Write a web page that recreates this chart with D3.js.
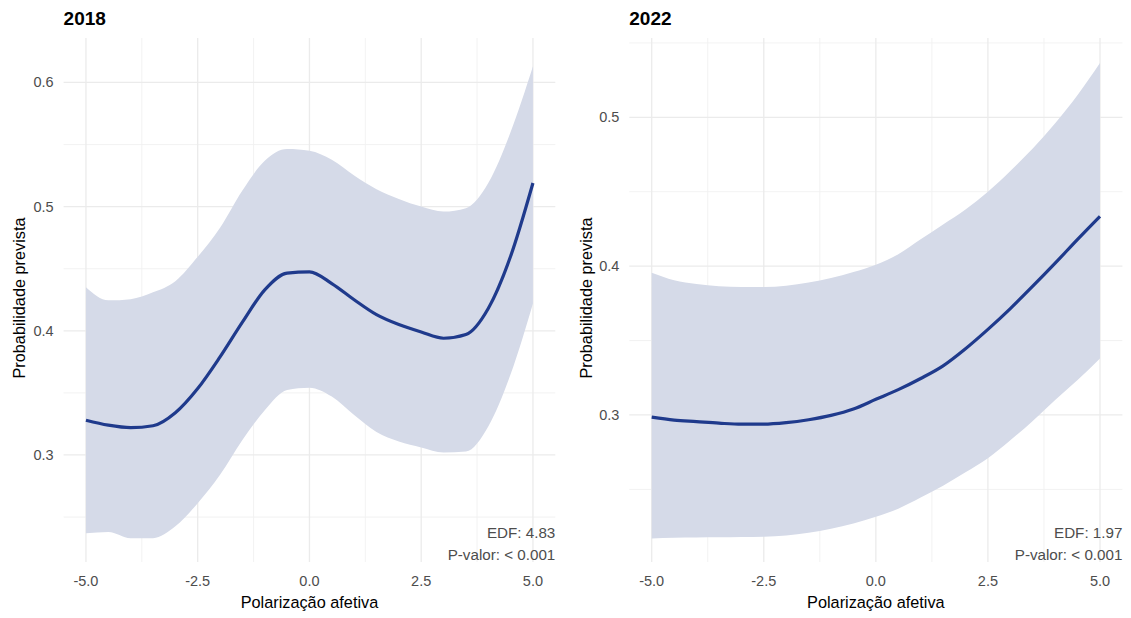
<!DOCTYPE html>
<html>
<head>
<meta charset="utf-8">
<style>
body { margin: 0; background: #ffffff; }
svg { display: block; font-family: "Liberation Sans", Arial, Helvetica, sans-serif; }
.grid-major { stroke: #ebebeb; stroke-width: 1.3; }
.grid-minor { stroke: #f0f0f0; stroke-width: 0.9; }
.ribbon { fill: #d5dae8; }
.fit { fill: none; stroke: #1f3a8c; stroke-width: 3.2; stroke-linejoin: round; }
.tick-label { fill: #4d4d4d; font-size: 14.5px; }
.axis-title { fill: #000000; font-size: 16.3px; }
.panel-title { fill: #000000; font-size: 19px; font-weight: bold; }
.note { fill: #4d4d4d; font-size: 15.2px; }
</style>
</head>
<body>
<svg width="1131" height="618"></svg>
<script src="https://d3js.org/d3.v7.min.js"></script>
<script>

var xGrid = [-5, -4.5, -4, -3.5, -3, -2.5, -2, -1.5, -1, -0.5, 0, 0.5, 1, 1.5, 2, 2.5, 3, 3.5, 4, 4.5, 5];

// 2018 panel
var fit2018   = [0.328, 0.324, 0.322, 0.3235, 0.334, 0.3535, 0.379, 0.407, 0.433, 0.4465, 0.4475, 0.438, 0.425, 0.413, 0.405, 0.399, 0.394, 0.397, 0.418, 0.46, 0.519];
var lower2018 = [0.237, 0.238, 0.233, 0.233, 0.2425, 0.2612, 0.284, 0.312, 0.336, 0.3523, 0.3542, 0.347, 0.3322, 0.3185, 0.3108, 0.306, 0.302, 0.3028, 0.323, 0.365, 0.422];
var upper2018 = [0.435, 0.4245, 0.4255, 0.431, 0.44, 0.4596, 0.483, 0.513, 0.537, 0.5464, 0.545, 0.5377, 0.525, 0.514, 0.5062, 0.5, 0.496, 0.4987, 0.519, 0.56, 0.613];

// 2022 panel
var fit2022   = [0.2985, 0.2965, 0.2955, 0.2945, 0.2938, 0.2938, 0.2948, 0.2968, 0.2997, 0.304, 0.3105, 0.317, 0.3245, 0.333, 0.3445, 0.3575, 0.3715, 0.3865, 0.402, 0.418, 0.4335];
var lower2022 = [0.217, 0.2175, 0.2177, 0.2178, 0.218, 0.2182, 0.219, 0.2208, 0.2235, 0.227, 0.2316, 0.237, 0.2445, 0.2525, 0.2615, 0.2709, 0.283, 0.296, 0.31, 0.3235, 0.338];
var upper2022 = [0.3955, 0.3905, 0.388, 0.3865, 0.386, 0.386, 0.3868, 0.389, 0.392, 0.396, 0.401, 0.408, 0.418, 0.428, 0.438, 0.45, 0.464, 0.479, 0.496, 0.515, 0.5365];

// ticks
var xTicks = [-5, -2.5, 0, 2.5, 5];
var xMinor = [-3.75, -1.25, 1.25, 3.75];
var yTicks2018 = [0.3, 0.4, 0.5, 0.6];
var yMinor2018 = [0.25, 0.35, 0.45, 0.55];
var yTicks2022 = [0.3, 0.4, 0.5];
var yMinor2022 = [0.25, 0.35, 0.45, 0.55];

var xTitle = "Polarização afetiva",
    yTitle = "Probabilidade prevista";

var svg = d3.select("svg");

// R prints a plain hyphen, not the unicode minus d3 uses
function fmt(v) { return d3.format(".1f")(v).replace("\u2212", "-"); }

function drawPanel(opt) {
  var x = d3.scaleLinear().domain([-5.5, 5.5]).range([opt.left, opt.right]);
  var y = d3.scaleLinear().domain(opt.yDomain).range([562, 38]);
  var g = svg.append("g");

  var rows = xGrid.map(function(v, i) {
    return {x: v, fit: opt.fit[i], lo: opt.lower[i], hi: opt.upper[i]};
  });

  // minor grid
  g.selectAll(".hm").data(opt.yMinor.filter(function(v) { return y(v) >= 38 && y(v) <= 562; }))
    .enter().append("line").attr("class", "grid-minor")
    .attr("x1", opt.left).attr("x2", opt.right)
    .attr("y1", function(d) { return y(d); }).attr("y2", function(d) { return y(d); });
  g.selectAll(".vm").data(xMinor)
    .enter().append("line").attr("class", "grid-minor")
    .attr("y1", 38).attr("y2", 562)
    .attr("x1", function(d) { return x(d); }).attr("x2", function(d) { return x(d); });

  // major grid
  g.selectAll(".hM").data(opt.yTicks)
    .enter().append("line").attr("class", "grid-major")
    .attr("x1", opt.left).attr("x2", opt.right)
    .attr("y1", function(d) { return y(d); }).attr("y2", function(d) { return y(d); });
  g.selectAll(".vM").data(xTicks)
    .enter().append("line").attr("class", "grid-major")
    .attr("y1", 38).attr("y2", 562)
    .attr("x1", function(d) { return x(d); }).attr("x2", function(d) { return x(d); });

  // ribbon + fitted line
  var area = d3.area()
    .curve(d3.curveMonotoneX)
    .x(function(d) { return x(d.x); })
    .y0(function(d) { return y(d.lo); })
    .y1(function(d) { return y(d.hi); });
  var line = d3.line()
    .curve(d3.curveMonotoneX)
    .x(function(d) { return x(d.x); })
    .y(function(d) { return y(d.fit); });

  g.append("path").datum(rows).attr("class", "ribbon").attr("d", area);
  g.append("path").datum(rows).attr("class", "fit").attr("d", line);

  // tick labels
  g.selectAll(".xl").data(xTicks)
    .enter().append("text").attr("class", "tick-label")
    .attr("x", function(d) { return x(d); }).attr("y", 586)
    .attr("text-anchor", "middle")
    .text(fmt);
  g.selectAll(".yl").data(opt.yTicks)
    .enter().append("text").attr("class", "tick-label")
    .attr("x", opt.left - 10).attr("y", function(d) { return y(d) + 5; })
    .attr("text-anchor", "end")
    .text(fmt);

  // titles
  g.append("text").attr("class", "axis-title")
    .attr("x", (opt.left + opt.right) / 2).attr("y", 608)
    .attr("text-anchor", "middle").text(xTitle);
  g.append("text").attr("class", "axis-title")
    .attr("transform", "translate(" + opt.yTitleX + ",298) rotate(-90)")
    .attr("text-anchor", "middle").text(yTitle);
  g.append("text").attr("class", "panel-title")
    .attr("x", opt.left).attr("y", 25).text(opt.title);

  // EDF note
  g.append("text").attr("class", "note")
    .attr("x", opt.right).attr("y", 538).attr("text-anchor", "end")
    .text("EDF: " + opt.edf);
  g.append("text").attr("class", "note")
    .attr("x", opt.right).attr("y", 560).attr("text-anchor", "end")
    .text("P-valor: < 0.001");
}

drawPanel({
  title: "2018", left: 63.6, right: 555.3, yDomain: [0.2138, 0.6358],
  fit: fit2018, lower: lower2018, upper: upper2018,
  yTicks: yTicks2018, yMinor: yMinor2018, yTitleX: 25, edf: "4.83"
});

drawPanel({
  title: "2022", left: 629.3, right: 1122.4, yDomain: [0.2012, 0.5533],
  fit: fit2022, lower: lower2022, upper: upper2022,
  yTicks: yTicks2022, yMinor: yMinor2022, yTitleX: 592, edf: "1.97"
});

</script>
</body>
</html>
